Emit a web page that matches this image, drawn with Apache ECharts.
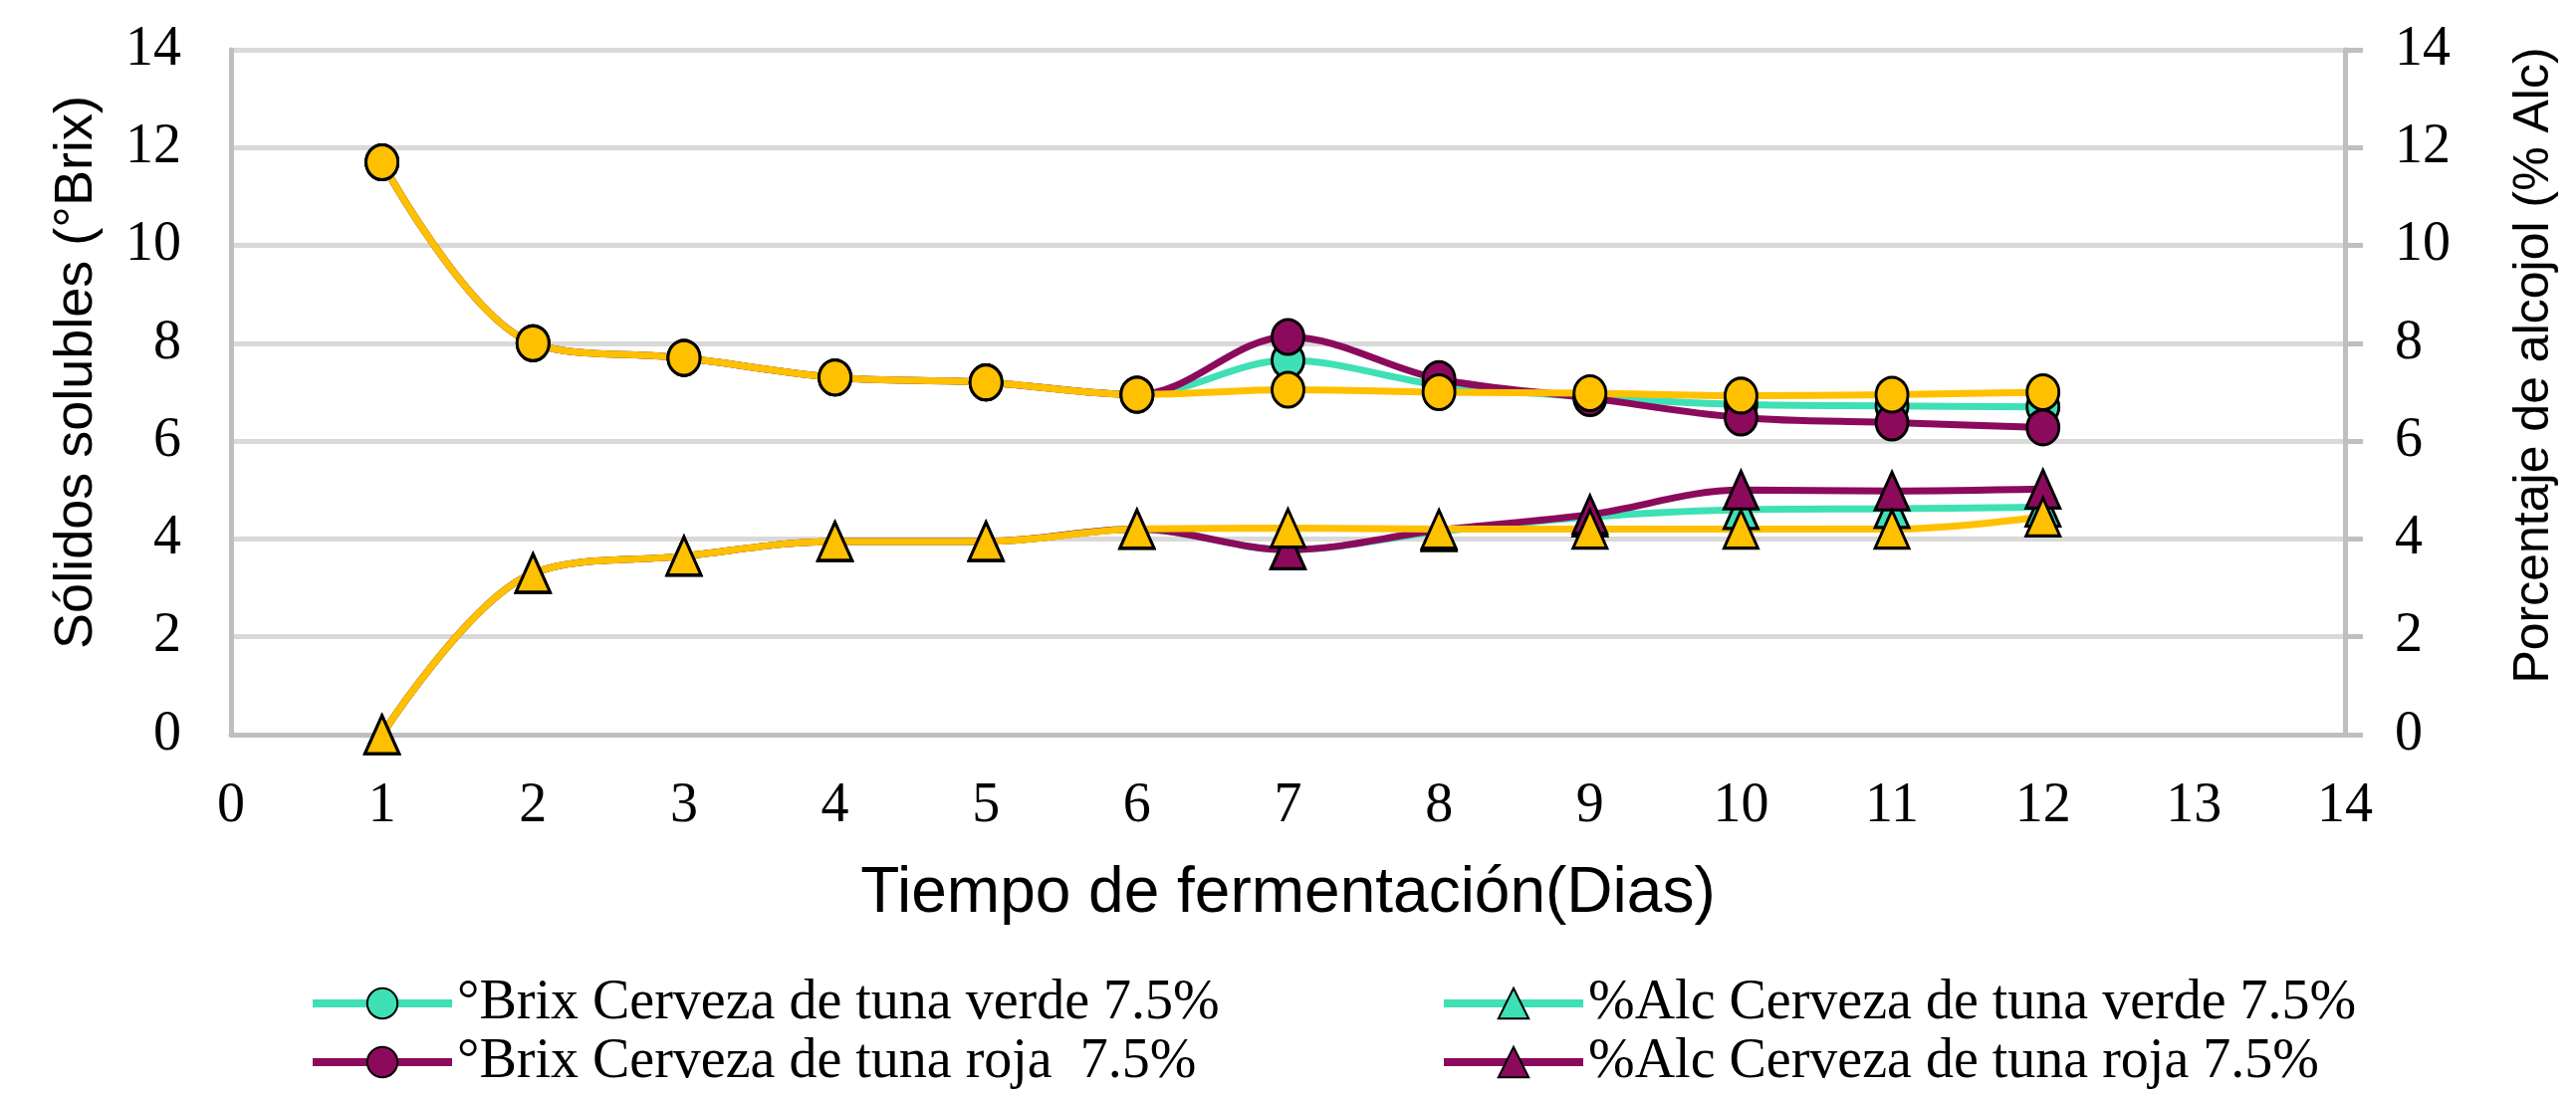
<!DOCTYPE html>
<html>
<head>
<meta charset="utf-8">
<title>Tiempo de fermentación</title>
<script src="https://cdn.jsdelivr.net/npm/echarts@6/dist/echarts.min.js"></script>
<style>
    html, body { margin: 0; padding: 0; background: #fff; }
    #grafica { width: 2587px; height: 1099px; }
</style>
</head>
<body>
<div id="grafica"></div>
<script>
// datos
var dias = [1, 2, 3, 4, 5, 6, 7, 8, 9, 10, 11, 12];
var brixVerde = [11.7, 8.0, 7.7, 7.3, 7.2, 6.95, 7.65, 7.15, 6.9, 6.75, 6.72, 6.7];
var brixRoja  = [11.7, 8.0, 7.7, 7.3, 7.2, 6.95, 8.13, 7.27, 6.88, 6.48, 6.38, 6.28];
var brixOro   = [11.7, 8.0, 7.7, 7.3, 7.2, 6.95, 7.05, 7.0, 6.98, 6.93, 6.95, 7.0];
var alcVerde  = [0, 3.3, 3.65, 3.95, 3.95, 4.2, 3.78, 4.15, 4.45, 4.6, 4.62, 4.65];
var alcRoja   = [0, 3.3, 3.65, 3.95, 3.95, 4.2, 3.78, 4.18, 4.5, 5.0, 4.98, 5.02];
var alcOro    = [0, 3.3, 3.65, 3.95, 3.95, 4.2, 4.22, 4.2, 4.2, 4.2, 4.2, 4.45];

var nombres = {
    brixVerde: "°Brix Cerveza de tuna verde 7.5%",
    brixRoja: "°Brix Cerveza de tuna roja  7.5%",
    alcVerde: "%Alc Cerveza de tuna verde 7.5%",
    alcRoja: "%Alc Cerveza de tuna roja 7.5%",
    brixOro: "°Brix serie 3",
    alcOro: "%Alc serie 3"
};

var verde = "#3EE0B5";
var roja = "#8B0A5C";
var oro = "#FFC000";

function pares(valores) {
    var out = [];
    for (var i = 0; i < dias.length; i++) {
        out.push([dias[i], valores[i]]);
    }
    return out;
}

function serie(nombre, valores, color, simbolo, eje) {
    return {
        name: nombre,
        type: "line",
        yAxisIndex: eje,
        data: pares(valores),
        smooth: 0.35,
        clip: false,
        symbol: simbolo,
        symbolSize: simbolo == "circle" ? [32, 35] : [34, 38],
        lineStyle: { color: color, width: 7 },
        itemStyle: { color: color, borderColor: "#000", borderWidth: 3 },
        emphasis: { disabled: true }
    };
}

var leyendaTexto = { color: "#000", fontFamily: "Liberation Serif", fontSize: 56, lineHeight: 56 };

function leyenda(izq, datos) {
    return {
        left: izq, top: 980, orient: "vertical", padding: 0,
        itemWidth: 140, itemHeight: 38, itemGap: 3,
        lineStyle: { width: 8 },
        textStyle: leyendaTexto,
        selectedMode: false,
        data: datos
    };
}

var option = {
    animation: false,
    backgroundColor: "#fff",
    grid: { left: 232, right: 232, top: 50, bottom: 361 },
    legend: [
        leyenda(310, [nombres.brixVerde, nombres.brixRoja]),
        leyenda(1446, [nombres.alcVerde, nombres.alcRoja])
    ],
    xAxis: {
        type: "value",
        min: 0, max: 14, interval: 1,
        axisLine: { show: true, lineStyle: { color: "#BFBFBF", width: 5 } },
        axisTick: { show: false },
        splitLine: { show: false },
        axisLabel: { margin: 44, color: "#000", fontFamily: "Liberation Serif", fontSize: 56 },
        name: "Tiempo de fermentación(Dias)",
        nameLocation: "middle",
        nameGap: 128,
        nameTextStyle: { color: "#000", fontFamily: "Liberation Sans", fontSize: 64 }
    },
    yAxis: [
        {
            type: "value",
            position: "left",
            min: 0, max: 14, interval: 2,
            axisLine: { show: true, lineStyle: { color: "#BFBFBF", width: 5 } },
            axisTick: { show: false },
            splitLine: { show: true, lineStyle: { color: "#D9D9D9", width: 5 } },
            axisLabel: { margin: 50, color: "#000", fontFamily: "Liberation Serif", fontSize: 56 },
            name: "Sólidos solubles (°Brix)",
            nameLocation: "middle",
            nameRotate: 90,
            nameGap: 128,
            nameTextStyle: { color: "#000", fontFamily: "Liberation Sans", fontSize: 54, padding: [0, 0, 0, 40] }
        },
        {
            type: "value",
            position: "right",
            min: 0, max: 14, interval: 2,
            axisLine: { show: true, lineStyle: { color: "#BFBFBF", width: 5 } },
            axisTick: { show: true, length: 18, lineStyle: { color: "#BFBFBF", width: 5 } },
            splitLine: { show: false },
            axisLabel: { margin: 50, color: "#000", fontFamily: "Liberation Serif", fontSize: 56 },
            name: "Porcentaje de alcojol (% Alc)",
            nameLocation: "middle",
            nameRotate: 90,
            nameGap: 165,
            nameTextStyle: { color: "#000", fontFamily: "Liberation Sans", fontSize: 50, padding: [0, 0, 0, 54] }
        }
    ],
    series: [
        serie(nombres.brixVerde, brixVerde, verde, "circle", 0),
        serie(nombres.alcVerde, alcVerde, verde, "triangle", 1),
        serie(nombres.brixRoja, brixRoja, roja, "circle", 0),
        serie(nombres.alcRoja, alcRoja, roja, "triangle", 1),
        serie(nombres.brixOro, brixOro, oro, "circle", 0),
        serie(nombres.alcOro, alcOro, oro, "triangle", 1)
    ]
};

var grafica = echarts.init(document.getElementById("grafica"));
grafica.setOption(option);
</script>
</body>
</html>
